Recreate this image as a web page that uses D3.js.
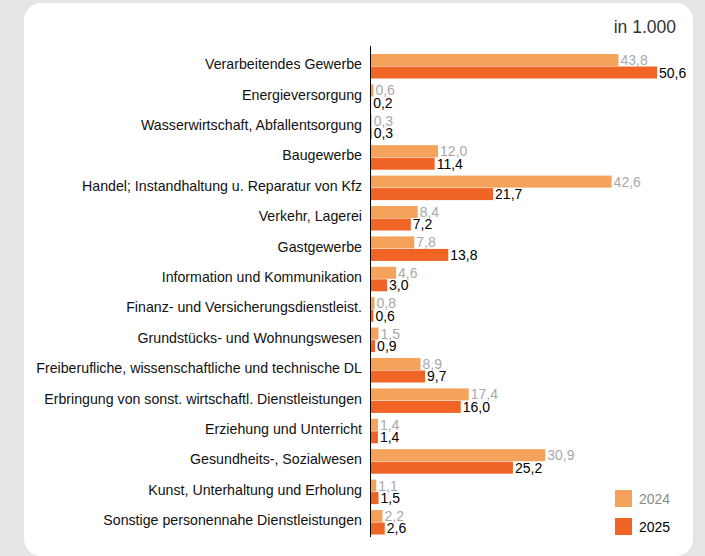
<!DOCTYPE html>
<html>
<head>
<meta charset="utf-8">
<script src="https://cdn.jsdelivr.net/npm/d3@7"></script>
<style>
  body { margin: 0; background: #e4e5e4; }
  svg { display: block; font-family: "Liberation Sans", Arial, sans-serif; }
</style>
</head>
<body>
<div id="chart-container"></div>
<script>
const categories = [
  "Verarbeitendes Gewerbe",
  "Energieversorgung",
  "Wasserwirtschaft, Abfallentsorgung",
  "Baugewerbe",
  "Handel; Instandhaltung u. Reparatur von Kfz",
  "Verkehr, Lagerei",
  "Gastgewerbe",
  "Information und Kommunikation",
  "Finanz- und Versicherungsdienstleist.",
  "Grundstücks- und Wohnungswesen",
  "Freiberufliche, wissenschaftliche und technische DL",
  "Erbringung von sonst. wirtschaftl. Dienstleistungen",
  "Erziehung und Unterricht",
  "Gesundheits-, Sozialwesen",
  "Kunst, Unterhaltung und Erholung",
  "Sonstige personennahe Dienstleistungen"
];
const values2024 = [43.8, 0.6, 0.3, 12.0, 42.6, 8.4, 7.8, 4.6, 0.8, 1.5, 8.9, 17.4, 1.4, 30.9, 1.1, 2.2];
const values2025 = [50.6, 0.2, 0.3, 11.4, 21.7, 7.2, 13.8, 3.0, 0.6, 0.9, 9.7, 16.0, 1.4, 25.2, 1.5, 2.6];
const years = ["2024", "2025"];
const unitLabel = "in 1.000";

const width = 705, height = 556;
const colors = { "2024": "#f5a25a", "2025": "#f06526" };
const labelColors = { "2024": "#a9a9a9", "2025": "#000" };

const data = categories.map((c, i) => ({ cat: c, "2024": values2024[i], "2025": values2025[i] }));

const svg = d3.select("#chart-container")
  .append("svg")
  .attr("width", width)
  .attr("height", height);

// white card
svg.append("rect")
  .attr("x", 24).attr("y", 3)
  .attr("width", 669).attr("height", 553)
  .attr("rx", 17)
  .attr("fill", "#fff");

const x = d3.scaleLinear()
  .domain([0, 50.6])
  .range([370, 657]);

const y = d3.scaleBand()
  .domain(categories)
  .range([54, 534.5])
  .paddingInner(0.194)
  .paddingOuter(0);

const ySub = d3.scaleBand()
  .domain(years)
  .range([0, y.bandwidth()])
  .paddingInner(0.04);

svg.append("text")
  .attr("x", 676).attr("y", 33)
  .attr("text-anchor", "end")
  .style("font-size", "17.5px")
  .style("fill", "#333")
  .text(unitLabel);

// category labels
svg.append("g")
  .selectAll("text")
  .data(data)
  .enter()
  .append("text")
  .attr("x", 362)
  .attr("y", d => y(d.cat) + y.bandwidth() / 2 + 3)
  .attr("text-anchor", "end")
  .style("font-size", "14.2px")
  .style("fill", "#111")
  .text(d => d.cat);

const groups = svg.append("g")
  .selectAll("g")
  .data(data)
  .enter()
  .append("g")
  .attr("transform", d => `translate(0,${y(d.cat)})`);

years.forEach(yr => {
  groups.append("rect")
    .attr("x", x(0))
    .attr("y", ySub(yr))
    .attr("width", d => x(d[yr]) - x(0))
    .attr("height", ySub.bandwidth())
    .attr("fill", colors[yr]);

  groups.append("text")
    .attr("x", d => x(d[yr]) + 2)
    .attr("y", ySub(yr) + ySub.bandwidth() - 1)
    .style("font-size", "14px")
    .style("fill", labelColors[yr])
    .text(d => d3.format(".1f")(d[yr]).replace(".", ","));
});

// axis line
svg.append("line")
  .attr("x1", 370.5).attr("x2", 370.5)
  .attr("y1", 46).attr("y2", 537)
  .attr("stroke", "#000")
  .attr("stroke-width", 1);

// legend
const legend = svg.append("g")
  .selectAll("g")
  .data(years)
  .enter()
  .append("g")
  .attr("transform", (d, i) => `translate(615,${490 + i * 28})`);

legend.append("rect")
  .attr("width", 17).attr("height", 17)
  .attr("fill", d => colors[d]);

legend.append("text")
  .attr("x", 24).attr("y", 14)
  .style("font-size", "14px")
  .style("fill", d => d === "2024" ? "#8a8a8a" : "#000")
  .text(d => d);
</script>
</body>
</html>
